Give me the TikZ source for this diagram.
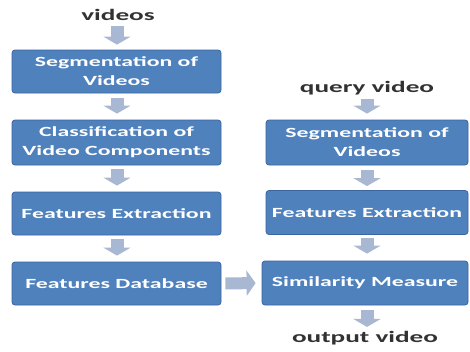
\documentclass[tikz,border=0pt]{standalone}
\usepackage{fontspec}
\setmainfont{Carlito}[FakeStretch=1.7]
\usetikzlibrary{arrows.meta}
\definecolor{boxblue}{RGB}{79,129,189}
\definecolor{boxedge}{RGB}{60,100,160}
\definecolor{arrowgrey}{RGB}{168,183,210}
\definecolor{labelgrey}{RGB}{50,50,50}
\tikzset{
  stepbox/.style={draw=boxedge, line width=0.8pt, fill=boxblue, rounded corners=3pt,
    text=white, font=\fontsize{14}{19}\selectfont\bfseries, align=center, inner sep=0pt},
  leftbox/.style={stepbox, minimum width=209pt, minimum height=43pt},
  rightbox/.style={stepbox, minimum width=202pt, minimum height=44pt},
  lbl/.style={text=labelgrey, font=\fontsize{16}{19}\selectfont\bfseries, inner sep=1pt},
  blockarrow/.style={draw=arrowgrey, line width=13pt,
    -{Triangle[width=27pt,length=8pt,fill=arrowgrey]}},
}
\begin{document}
\begin{tikzpicture}[x=1pt,y=-1pt]
\useasboundingbox (0,0) rectangle (470,351);
% left column
\node[lbl] (videos) at (118,15) {videos};
\node[leftbox] (L1) at (116.5,71.5) {Segmentation of\\Videos};
\node[leftbox, minimum height=45pt] (L2) at (116.5,142.5) {Classification of\\Video Components};
\node[leftbox] (L3) at (116.5,213.5) {Features Extraction};
\node[leftbox] (L4) at (116.5,283.5) {Features Database};
% right column
\node[lbl] (query) at (367,88) {query video};
\node[rightbox, minimum height=45pt] (R1) at (367,142.5) {Segmentation of\\Videos};
\node[rightbox] (R2) at (367,212.5) {Features Extraction};
\node[rightbox, minimum width=206pt] (R3) at (365,283) {Similarity Measure};
\node[lbl] (out) at (365,338) {output video};
% arrows, left
\coordinate (lx) at (117,0);
\draw[blockarrow, shorten <=4pt, shorten >=5pt] (lx |- videos.south) -- (lx |- L1.north);
\draw[blockarrow, shorten <=5pt, shorten >=6pt] (lx |- L1.south) -- (lx |- L2.north);
\draw[blockarrow, shorten <=4pt, shorten >=6pt] (lx |- L2.south) -- (lx |- L3.north);
\draw[blockarrow, shorten <=4pt, shorten >=6pt] (lx |- L3.south) -- (lx |- L4.north);
% arrows, right
\coordinate (rx) at (367,0);
\draw[blockarrow, shorten <=3pt, shorten >=6pt] (rx |- query.south) -- (rx |- R1.north);
\draw[blockarrow, shorten <=5pt, shorten >=4pt] (rx |- R1.south) -- (rx |- R2.north);
\draw[blockarrow, shorten <=3pt, shorten >=7pt] (rx |- R2.south) -- (rx |- R3.north);
\draw[blockarrow, shorten <=5pt, shorten >=3pt] (rx |- R3.south) -- (rx |- out.north);
% horizontal arrow
\draw[blockarrow, line width=12pt, -{Triangle[width=25pt,length=9pt,fill=arrowgrey]},
  shorten <=4pt, shorten >=6pt] (L4.east) -- (R3.west);
\end{tikzpicture}
\end{document}
